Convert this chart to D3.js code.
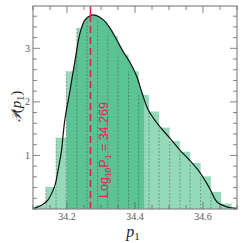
<!DOCTYPE html>
<html>
<head>
<meta charset="utf-8">
<script src="https://cdn.jsdelivr.net/npm/d3@7"></script>
<style>
  body { margin: 0; background: #fff; }
  svg { display: block; }
</style>
</head>
<body>
<svg id="chart" width="245" height="243"></svg>
<script>
// histogram bins (left edges) and heights
const binEdges = [34.108, 34.138, 34.168, 34.198, 34.229, 34.259, 34.290, 34.320, 34.350, 34.381,
                  34.411, 34.441, 34.471, 34.502, 34.532, 34.562, 34.593, 34.623, 34.653, 34.684];
const binHeights = [0.07, 0.41, 1.33, 2.57, 3.38, 3.55, 3.50, 3.23, 2.88, 2.57,
                    2.13, 1.82, 1.52, 1.27, 1.07, 0.86, 0.61, 0.32, 0.10];

// smoothed density curve
const kdeX = [34.100, 34.111, 34.125, 34.140, 34.150, 34.165, 34.174, 34.184, 34.189, 34.194, 34.209, 34.224,
              34.238, 34.253, 34.273, 34.287, 34.307, 34.326, 34.346, 34.366, 34.385, 34.405,
              34.421, 34.439, 34.469, 34.503, 34.532, 34.562, 34.591, 34.621, 34.640, 34.670, 34.700];
const kdeY = [0.01, 0.03, 0.07, 0.14, 0.23, 0.45, 0.73, 1.10, 1.41, 1.68, 2.22, 2.79,
              3.28, 3.53, 3.62, 3.61, 3.53, 3.38, 3.16, 2.93, 2.74, 2.48,
              2.16, 1.85, 1.57, 1.32, 1.10, 0.90, 0.68, 0.37, 0.14, 0.04, 0.01];

const bestFit = 34.269;
const interval = [34.199, 34.427];
const xTicks = [34.2, 34.4, 34.6];
const yTicks = [1, 2, 3];

const W = 245, H = 243;
const m = {top: 6, right: 8, bottom: 34, left: 33};
const svg = d3.select('#chart');

const x = d3.scaleLinear().domain([34.1, 34.7]).range([m.left, W - m.right]);
const y = d3.scaleLinear().domain([0, 3.79]).range([H - m.bottom, m.top]);

const kde = kdeX.map((v, i) => [v, kdeY[i]]);
const bins = binHeights.map((h, i) => ({x0: binEdges[i], x1: binEdges[i + 1], h: h}));

svg.append('defs').append('clipPath').attr('id', 'ci')
  .append('rect')
  .attr('x', x(interval[0])).attr('y', 0)
  .attr('width', x(interval[1]) - x(interval[0])).attr('height', H);

// dark area under the curve inside interval
svg.append('path')
  .datum(kde)
  .attr('clip-path', 'url(#ci)')
  .attr('fill', '#3fb57f')
  .attr('fill-opacity', 0.85)
  .attr('d', d3.area().x(d => x(d[0])).y0(y(0)).y1(d => y(d[1])).curve(d3.curveCatmullRom));

// histogram
svg.append('g').selectAll('rect').data(bins).enter().append('rect')
  .attr('x', d => x(d.x0))
  .attr('y', d => y(d.h))
  .attr('width', d => x(d.x1) - x(d.x0))
  .attr('height', d => y(0) - y(d.h))
  .attr('fill', '#5cc496')
  .attr('fill-opacity', 0.65);

svg.append('g').selectAll('line').data(bins.slice(1)).enter().append('line')
  .attr('x1', d => x(d.x0)).attr('x2', d => x(d.x0))
  .attr('y1', y(0)).attr('y2', d => y(d.h))
  .attr('stroke', '#3b5f50')
  .attr('stroke-width', 0.7)
  .attr('stroke-dasharray', '2,1.5')
  .attr('stroke-opacity', 0.8);

// density curve
svg.append('path')
  .datum(kde)
  .attr('fill', 'none')
  .attr('stroke', '#111')
  .attr('stroke-width', 1.2)
  .attr('d', d3.line().x(d => x(d[0])).y(d => y(d[1])).curve(d3.curveCatmullRom));

// best fit marker
const peak = 3.62;
svg.append('line')
  .attr('x1', x(bestFit)).attr('x2', x(bestFit))
  .attr('y1', y(3.79)).attr('y2', y(peak))
  .attr('stroke', '#dc1f4b').attr('stroke-width', 1.6);
svg.append('line')
  .attr('x1', x(bestFit)).attr('x2', x(bestFit))
  .attr('y1', y(peak)).attr('y2', y(0))
  .attr('stroke', '#dc1f4b').attr('stroke-width', 1.6)
  .attr('stroke-dasharray', '7,4');

const lbl = svg.append('text')
  .attr('transform', `translate(${x(bestFit) + 18},${y(0) - 11}) rotate(-90)`)
  .attr('font-family', 'Liberation Sans, Arial, sans-serif')
  .attr('font-size', 12.5)
  .attr('fill', '#d8285a');
lbl.append('tspan').text('Log');
lbl.append('tspan').attr('font-size', 8.5).attr('dy', 3).text('10');
lbl.append('tspan').attr('dy', -3).text('P');
lbl.append('tspan').attr('font-size', 8.5).attr('dy', 3).text('1');
lbl.append('tspan').attr('dy', -3).text(' = ' + bestFit);

// frame and ticks
const tickCol = '#666';
svg.append('rect')
  .attr('x', m.left).attr('y', m.top)
  .attr('width', W - m.left - m.right).attr('height', H - m.top - m.bottom)
  .attr('fill', 'none').attr('stroke', '#888').attr('stroke-width', 1.2);

const minorX = d3.range(34.1, 34.7001, 0.05);
const minorY = d3.range(0, 3.79, 0.2);
const tg = svg.append('g').attr('stroke', tickCol).attr('stroke-width', 0.8);
minorX.forEach(v => {
  const major = xTicks.some(t => Math.abs(t - v) < 1e-6);
  const len = major ? 7 : 4;
  tg.append('line').attr('x1', x(v)).attr('x2', x(v)).attr('y1', y(0)).attr('y2', y(0) - len);
  tg.append('line').attr('x1', x(v)).attr('x2', x(v)).attr('y1', m.top).attr('y2', m.top + len);
});
minorY.forEach(v => {
  const major = yTicks.some(t => Math.abs(t - v) < 1e-6);
  const len = major ? 7 : 4;
  tg.append('line').attr('x1', m.left).attr('x2', m.left + len).attr('y1', y(v)).attr('y2', y(v));
  tg.append('line').attr('x1', W - m.right).attr('x2', W - m.right - len).attr('y1', y(v)).attr('y2', y(v));
});

svg.append('g').selectAll('text').data(xTicks).enter().append('text')
  .attr('x', d => x(d)).attr('y', y(0) + 11)
  .attr('text-anchor', 'middle')
  .attr('font-family', 'Liberation Serif, DejaVu Serif, serif')
  .attr('font-size', 10).attr('fill', '#555')
  .text(d => d.toFixed(1));
svg.append('g').selectAll('text').data(yTicks).enter().append('text')
  .attr('x', m.left - 3).attr('y', d => y(d) + 3.5)
  .attr('text-anchor', 'end')
  .attr('font-family', 'Liberation Serif, DejaVu Serif, serif')
  .attr('font-size', 10).attr('fill', '#555')
  .text(d => d);

// axis labels
const xl = svg.append('text')
  .attr('x', (m.left + W - m.right) / 2 - 2).attr('y', H - 6)
  .attr('text-anchor', 'middle')
  .attr('font-family', 'Liberation Serif, DejaVu Serif, serif')
  .attr('font-style', 'italic').attr('font-size', 16).attr('fill', '#222');
xl.append('tspan').text('p');
xl.append('tspan').attr('font-style', 'normal').attr('font-size', 11).attr('dy', 3).text('1');

const yl = svg.append('text')
  .attr('transform', `translate(21,${(m.top + H - m.bottom) / 2 - 1}) rotate(-90)`)
  .attr('text-anchor', 'middle')
  .attr('font-family', 'Liberation Serif, DejaVu Serif, serif')
  .attr('font-size', 15).attr('fill', '#222');
yl.append('tspan').attr('font-style', 'italic').attr('font-size', 13).text('𝒫');
yl.append('tspan').text('(');
yl.append('tspan').attr('font-style', 'italic').text('p');
yl.append('tspan').attr('font-size', 10).attr('dy', 3).text('1');
yl.append('tspan').attr('dy', -3).text(')');
</script>
</body>
</html>
